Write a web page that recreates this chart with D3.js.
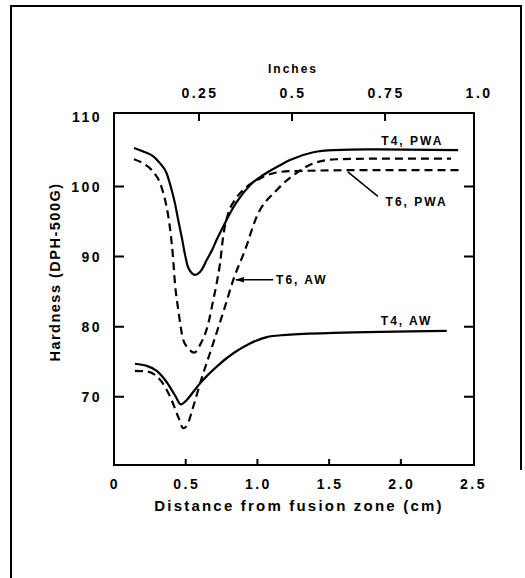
<!DOCTYPE html>
<html>
<head>
<meta charset="utf-8">
<script src="https://cdn.jsdelivr.net/npm/d3@7"></script>
<style>
  body { margin: 0; background: #fff; }
  text { font-family: "Liberation Sans", Arial, sans-serif; font-weight: bold; fill: #000; }
</style>
</head>
<body>
<div id="chart"></div>
<script>
// distance (cm) / hardness (DPH-500G)
const t4pwaX = [0.14, 0.204, 0.274, 0.321, 0.367, 0.402, 0.425, 0.448, 0.472, 0.495, 0.518, 0.565, 0.611, 0.646, 0.69, 0.716, 0.762, 0.809, 0.856, 0.948, 1.04, 1.135, 1.227, 1.39, 1.53, 1.76, 2.40];
const t4pwaY = [105.5, 105.0, 104.3, 103.3, 101.9, 99.5, 97.6, 95.2, 92.8, 90.3, 88.4, 87.4, 88.1, 89.5, 91.2, 92.4, 94.3, 96.2, 97.8, 100.2, 101.65, 102.8, 103.8, 104.9, 105.2, 105.3, 105.2];

const t6pwaX = [0.139, 0.204, 0.274, 0.321, 0.356, 0.379, 0.395, 0.409, 0.425, 0.448, 0.483, 0.518, 0.56, 0.60, 0.658, 0.692, 0.716, 0.739, 0.762, 0.797, 0.844, 0.90, 0.995, 1.09, 1.23, 1.8, 2.42];
const t6pwaY = [103.9, 103.3, 102.1, 100.5, 98.1, 95.7, 93.3, 90.5, 86.2, 82.4, 78.1, 76.9, 76.3, 77.4, 80.5, 83.8, 86.2, 89.0, 93.0, 96.2, 98.1, 99.5, 100.9, 101.8, 102.2, 102.35, 102.35];

const t6awX = [0.146, 0.228, 0.298, 0.356, 0.402, 0.448, 0.483, 0.511, 0.553, 0.60, 0.68, 0.77, 0.832, 0.913, 0.995, 1.135, 1.27, 1.39, 1.55, 2.0, 2.35];
const t6awY = [73.7, 73.6, 72.9, 71.4, 69.5, 67.1, 65.5, 66.0, 68.6, 71.9, 76.9, 82.6, 86.7, 90.9, 95.7, 99.5, 101.9, 103.3, 103.9, 104.0, 104.0];

const t4awX = [0.146, 0.228, 0.298, 0.367, 0.425, 0.467, 0.506, 0.553, 0.60, 0.716, 0.832, 0.948, 1.065, 1.18, 1.53, 2.32];
const t4awY = [74.7, 74.4, 73.7, 72.1, 70.2, 68.9, 69.5, 70.7, 71.9, 74.3, 76.2, 77.6, 78.5, 78.8, 79.1, 79.4];

const yTicks = [70, 80, 90, 100, 110];
const cmTicks = [0, 0.5, 1.0, 1.5, 2.0, 2.5];
const inchTicks = [0.25, 0.5, 0.75, 1.0];

const series = [
  {name: "T4, PWA", xs: t4pwaX, ys: t4pwaY, dashed: false},
  {name: "T6, PWA", xs: t6pwaX, ys: t6pwaY, dashed: true},
  {name: "T6, AW",  xs: t6awX,  ys: t6awY,  dashed: true},
  {name: "T4, AW",  xs: t4awX,  ys: t4awY,  dashed: false}
];

const W = 525, H = 578;
const frame = {left: 114, right: 474, top: 113, bottom: 465};

const svg = d3.select("#chart").append("svg")
    .attr("width", W)
    .attr("height", H);

svg.append("rect").attr("width", W).attr("height", H).attr("fill", "#fff");

// outer page border (left / top / right edges of the scanned box)
svg.append("path")
    .attr("d", `M11,${H} V6 H521 V470`)
    .attr("fill", "none")
    .attr("stroke", "#000")
    .attr("stroke-width", 2);

const x = d3.scaleLinear().domain([0, 2.51]).range([frame.left, frame.right]);
const xIn = d3.scaleLinear().domain([0.0215, 0.989]).range([frame.left, frame.right]);
const y = d3.scaleLinear().domain([60.25, 110.5]).range([frame.bottom, frame.top]);

// tick labels
const tickFont = g => g
    .style("font-size", "14px")
    .style("letter-spacing", "2.5px");

svg.append("g").selectAll("text")
    .data(yTicks)
    .enter().append("text")
    .attr("x", frame.left - 12)
    .attr("y", d => y(d))
    .attr("dy", "0.36em")
    .attr("text-anchor", "end")
    .call(tickFont)
    .text(d3.format("d"));

svg.append("g").selectAll("text")
    .data(cmTicks)
    .enter().append("text")
    .attr("x", d => x(d) + 1)
    .attr("y", frame.bottom + 24)
    .attr("text-anchor", "middle")
    .call(tickFont)
    .text(d => d === 0 ? "0" : d3.format(".1f")(d));

svg.append("g").selectAll("text")
    .data(inchTicks)
    .enter().append("text")
    .attr("x", d => xIn(d) + 1)
    .attr("y", frame.top - 15)
    .attr("text-anchor", "middle")
    .call(tickFont)
    .text(d => d === 0.25 || d === 0.75 ? String(d) : d3.format(".1f")(d));

svg.append("rect")
    .attr("x", frame.left).attr("y", frame.top)
    .attr("width", frame.right - frame.left).attr("height", frame.bottom - frame.top)
    .attr("fill", "none")
    .attr("stroke", "#000")
    .attr("stroke-width", 2);

// inward tick marks, drawn on top of the frame
const yIn = yTicks.filter(d => d < 110);
const tickPath = d3.path();
yIn.forEach(d => {
  tickPath.moveTo(frame.left, y(d));  tickPath.lineTo(frame.left + 10, y(d));
  tickPath.moveTo(frame.right, y(d)); tickPath.lineTo(frame.right - 10, y(d));
});
cmTicks.filter(d => d > 0 && d < 2.5).forEach(d => {
  tickPath.moveTo(x(d), frame.bottom); tickPath.lineTo(x(d), frame.bottom - 6);
});
inchTicks.filter(d => d < 1).forEach(d => {
  tickPath.moveTo(xIn(d), frame.top); tickPath.lineTo(xIn(d), frame.top + 8);
});
svg.append("path")
    .attr("d", tickPath.toString())
    .attr("fill", "none")
    .attr("stroke", "#000")
    .attr("stroke-width", 2);

// axis titles
svg.append("text")
    .attr("x", 293).attr("y", 73)
    .attr("text-anchor", "middle")
    .style("font-size", "12px")
    .style("letter-spacing", "2px")
    .text("Inches");

svg.append("text")
    .attr("x", 299).attr("y", 511)
    .attr("text-anchor", "middle")
    .style("font-size", "15px")
    .style("letter-spacing", "2.2px")
    .text("Distance from fusion zone (cm)");

svg.append("text")
    .attr("transform", "translate(60,272) rotate(-90)")
    .attr("text-anchor", "middle")
    .style("font-size", "14.5px")
    .style("letter-spacing", "1.5px")
    .text("Hardness (DPH-500G)");

// curves
const line = d3.line()
    .x(d => x(d[0]))
    .y(d => y(d[1]))
    .curve(d3.curveMonotoneX);

svg.append("g").selectAll("path")
    .data(series)
    .enter().append("path")
    .attr("d", s => line(s.xs.map((v, i) => [v, s.ys[i]])))
    .attr("fill", "none")
    .attr("stroke", "#000")
    .attr("stroke-width", 2.2)
    .attr("stroke-dasharray", s => s.dashed ? "8,5" : null);

// curve labels
const labels = [
  {text: "T4, PWA", cx: 2.08, cy: 106.6},
  {text: "T6, PWA", cx: 2.11, cy: 97.8},
  {text: "T6, AW",  cx: 1.31, cy: 86.7},
  {text: "T4, AW",  cx: 2.04, cy: 80.9}
];
svg.append("g").selectAll("text")
    .data(labels)
    .enter().append("text")
    .attr("x", d => x(d.cx))
    .attr("y", d => y(d.cy))
    .attr("dy", "0.35em")
    .attr("text-anchor", "middle")
    .style("font-size", "12px")
    .style("letter-spacing", "2px")
    .text(d => d.text);

// leader to T6, PWA
svg.append("line")
    .attr("x1", x(1.63)).attr("y1", y(102.1))
    .attr("x2", x(1.84)).attr("y2", y(98.6))
    .attr("stroke", "#000").attr("stroke-width", 1.5);

// arrow to T6, AW
svg.append("defs").append("marker")
    .attr("id", "arr")
    .attr("viewBox", "0 0 10 10")
    .attr("refX", 9).attr("refY", 5)
    .attr("markerWidth", 6).attr("markerHeight", 6)
    .attr("orient", "auto")
  .append("path")
    .attr("d", "M0,2 L10,5 L0,8 z")
    .attr("fill", "#000");

svg.append("line")
    .attr("x1", x(1.11)).attr("y1", y(86.7))
    .attr("x2", x(0.85)).attr("y2", y(86.7))
    .attr("stroke", "#000").attr("stroke-width", 1.5)
    .attr("marker-end", "url(#arr)");
</script>
</body>
</html>
